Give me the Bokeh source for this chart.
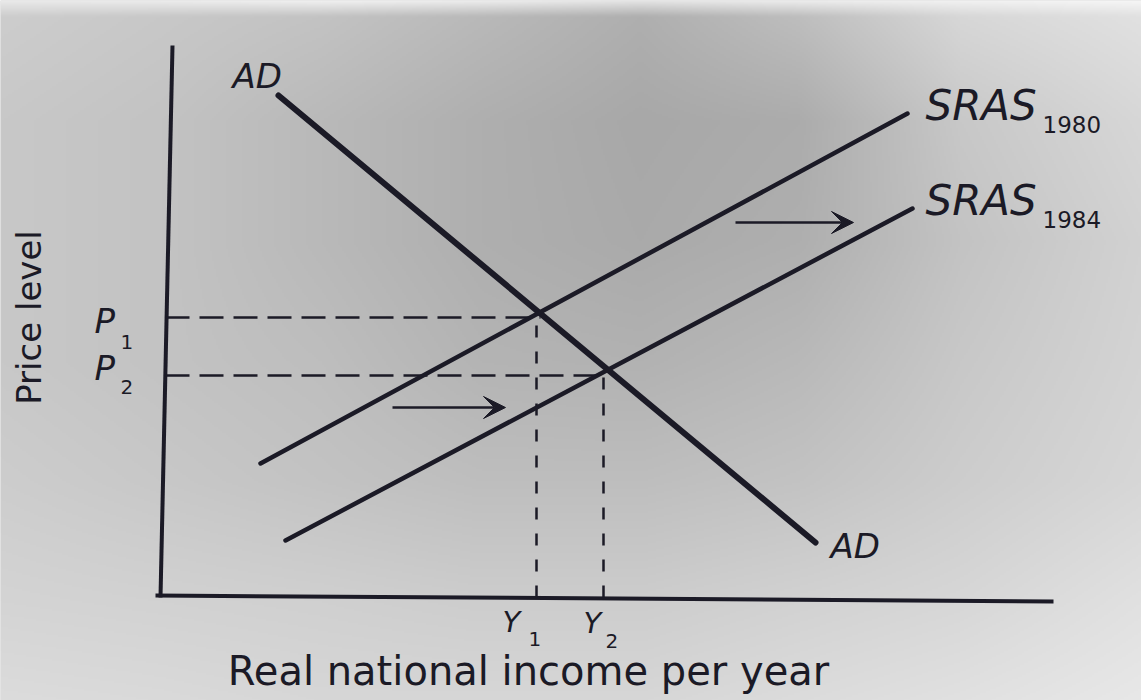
import numpy as np
from bokeh.plotting import figure
from bokeh.models import Range1d, Label, Arrow, VeeHead
from bokeh.embed import file_html
from bokeh.resources import INLINE

# ---- Schedules (real income on x, price level on y), straight-line endpoints ----
ad_income = [1.18, 6.55]
ad_price = [5.02, 0.55]
sras1980_income = [1.00, 7.47]
sras1980_price = [1.34, 4.84]
sras1984_income = [1.25, 7.52]
sras1984_price = [0.57, 3.89]

# ---- Equilibria: (Y1, P1) before the shift, (Y2, P2) after ----
eq_income = [3.76, 4.43]
eq_price = [2.80, 2.22]
eq_income_labels = ["Y", "Y"]
eq_price_labels = ["P", "P"]
eq_subscripts = ["1", "2"]

# ---- Rightward shift arrows of the supply curve ----
shift_x0 = [5.75, 2.32]
shift_x1 = [6.93, 3.45]
shift_y = [3.75, 1.90]

# ---- Curve labels ----
curve_names = ["SRAS", "SRAS"]
curve_years = ["1980", "1984"]

INK = "#1b1a26"
FONT = "DejaVu Sans"

p = figure(width=1141, height=700, output_backend="svg", toolbar_location=None,
           x_range=Range1d(-1.60, 9.81), y_range=Range1d(-1.03, 5.97),
           x_axis_type=None, y_axis_type=None, min_border=0)
p.grid.visible = False
p.outline_line_color = None
p.background_fill_color = "#d0d0d0"
p.border_fill_color = "#d0d0d0"

# soft grey paper tone, darker toward the upper middle
gx = [0, 160, 320, 480, 640, 800, 960, 1141]
gy = [0, 15, 120, 240, 360, 480, 600, 700]
tone = np.array([
    [232, 234, 238, 234, 226, 234, 240, 245],
    [205, 200, 195, 185, 175, 190, 215, 225],
    [200, 195, 185, 175, 168, 172, 200, 215],
    [200, 195, 185, 175, 170, 175, 195, 210],
    [200, 195, 190, 180, 178, 185, 200, 212],
    [205, 200, 195, 190, 190, 195, 205, 215],
    [212, 210, 208, 205, 205, 210, 215, 225],
    [220, 218, 215, 215, 215, 220, 225, 232],
], dtype=float)
hx = np.arange(0, 1141, 2)
hy = np.arange(0, 700, 2)
rows = np.array([np.interp(hx, gx, r) for r in tone])
shade = np.array([np.interp(hy, gy, rows[:, j]) for j in range(len(hx))]).T
shade = shade[::-1].astype(np.uint8)
ny, nx = shade.shape
img = np.empty((ny, nx), dtype=np.uint32)
view = img.view(np.uint8).reshape(ny, nx, 4)
view[..., 0] = shade
view[..., 1] = shade
view[..., 2] = shade
view[..., 3] = 255
p.image_rgba(image=[img], x=-1.60, y=-1.03, dw=11.41, dh=7.0)

# axes
p.line([0.0, 0.12], [0.0, 5.52], line_width=4, color=INK)
p.line([-0.05, 8.93], [0.02, -0.04], line_width=4, color=INK)

# dashed guides to the axes
for xi, pi in zip(eq_income, eq_price):
    p.line([0.05, xi + 0.04], [pi, pi], line_width=2.5, color=INK, line_dash="24 10")
    p.line([xi, xi], [0.0, pi], line_width=2.5, color=INK, line_dash="12 14")

# schedules
p.line(ad_income, ad_price, line_width=6, color=INK, line_cap="round")
p.line(sras1980_income, sras1980_price, line_width=4.5, color=INK, line_cap="round")
p.line(sras1984_income, sras1984_price, line_width=4.5, color=INK, line_cap="round")

# shift arrows
for x0, x1, yv in zip(shift_x0, shift_x1, shift_y):
    p.add_layout(Arrow(x_start=x0, y_start=yv, x_end=x1, y_end=yv, line_width=2.5,
                       line_color=INK,
                       end=VeeHead(size=22, fill_color=INK, line_color=INK, line_width=1)))


def lab(text, x, y, size, style="italic", **kw):
    kw.setdefault("text_baseline", "middle")
    p.add_layout(Label(x=x, y=y, text=text, text_font=FONT, text_font_size=f"{size}px",
                       text_font_style=style, text_color=INK, **kw))


# AD labels at both ends of the demand curve
lab("AD", ad_income[0] - 0.46, ad_price[0] + 0.20, 34)
lab("AD", ad_income[1] + 0.15, ad_price[1] - 0.03, 34)

# SRAS labels with year subscripts
for name, year, ye in zip(curve_names, curve_years, [sras1980_price[1], sras1984_price[1]]):
    lab(name, 7.65, ye + 0.085, 42)
    lab(year, 8.82, ye - 0.11, 23, style="normal")

# P and Y labels on the axes
p_dy = [-0.03, 0.08]
p_sub_dy = [-0.24, -0.11]
for txt, sub, pv, dy, sdy in zip(eq_price_labels, eq_subscripts, eq_price, p_dy, p_sub_dy):
    lab(txt, -0.66, pv + dy, 34)
    lab(sub, -0.40, pv + sdy, 20, style="normal")

y_dx = [-0.34, -0.20]
y_sub_dx = [-0.08, 0.02]
y_mid = [-0.24, -0.25]
y_sub_mid = [-0.41, -0.43]
for txt, sub, xv, dx, sdx, m, sm in zip(eq_income_labels, eq_subscripts, eq_income,
                                         y_dx, y_sub_dx, y_mid, y_sub_mid):
    lab(txt, xv + dx, m, 29)
    lab(sub, xv + sdx, sm, 20, style="normal")

# axis titles
lab("Price level", -1.32, 2.80, 34, style="normal", angle=np.pi / 2, text_align="center")
lab("Real national income per year", 3.68, -0.73, 40, style="normal", text_align="center")

open("out.html", "w").write(file_html(p, INLINE))
